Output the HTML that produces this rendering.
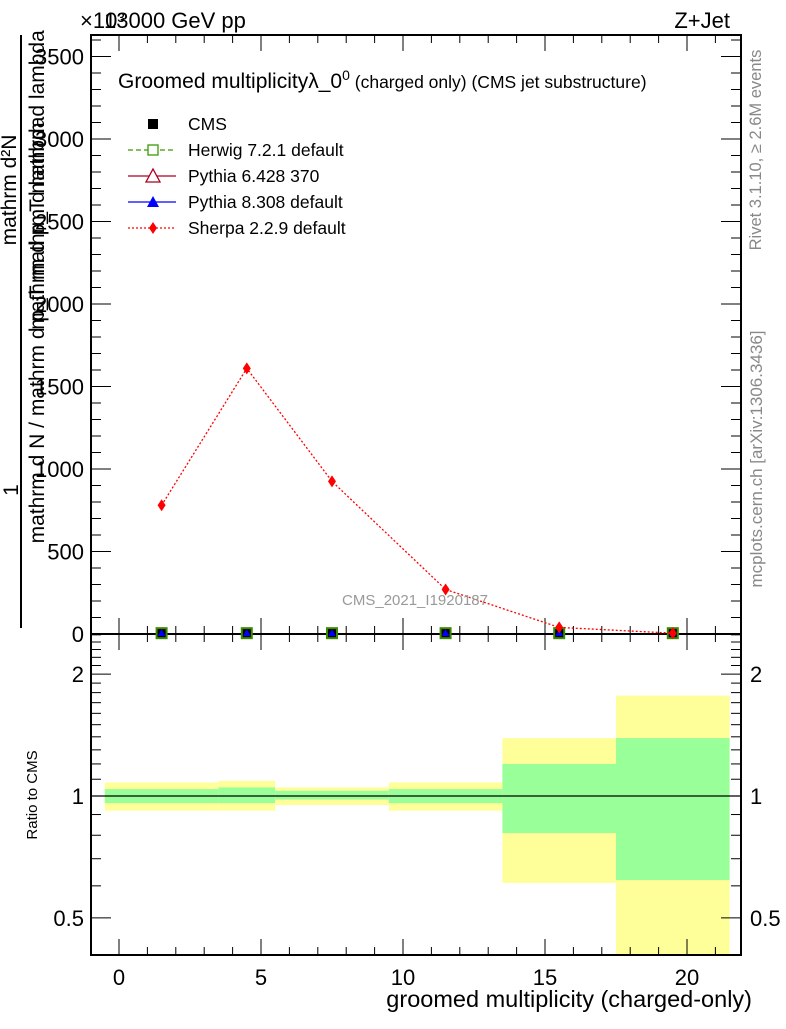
<!DOCTYPE html>
<html><head><meta charset="utf-8"><style>
body{margin:0;background:#fff}
svg{font-family:"Liberation Sans",sans-serif}
</style></head><body>
<svg id="c" width="786" height="1024" xmlns="http://www.w3.org/2000/svg"></svg>
<script>
const xs=[1.5,4.5,7.5,11.5,15.5,19.5];
const edges=[-0.5,3.5,5.5,9.5,13.5,17.5,21.5];
const sherpa=[780,1610,925,270,40,5];
const cmsVals=[5,5,5,5,5,5];
const yelHi=[1.08,1.09,1.05,1.08,1.39,1.77];
const yelLo=[0.92,0.92,0.95,0.92,0.61,0.3];
const grnHi=[1.04,1.05,1.03,1.04,1.2,1.39];
const grnLo=[0.96,0.96,0.98,0.96,0.81,0.62];
const xTicks=[0,5,10,15,20];
const yTicks=[500,1000,1500,2000,2500,3000,3500];
const rTicks=[0.5,1,2];
const L=91,R=741,T=35,M=634,B=955;
const X=v=>119+(v)*28.4;
const Y=v=>634-v*0.165;
const RY=r=>796-405*Math.log10(r);
const NS="http://www.w3.org/2000/svg";
const svg=document.getElementById('c');
function el(t,a,p){const e=document.createElementNS(NS,t);for(const k in a)e.setAttribute(k,a[k]);(p||svg).appendChild(e);return e;}
function tx(s,a){const e=el('text',a);e.textContent=s;return e;}
for(let i=0;i<xs.length;i++){
 const x0=X(edges[i]),x1=X(edges[i+1]);
 const yb=Math.min(RY(yelLo[i]),B);
 let r=el('rect',{x:x0,y:RY(yelHi[i]),width:x1-x0,height:yb-RY(yelHi[i]),fill:'#ffff99'});
 
 r=el('rect',{x:x0,y:RY(grnHi[i]),width:x1-x0,height:RY(grnLo[i])-RY(grnHi[i]),fill:'#99ff99'});
 
}
el('line',{x1:L,x2:R,y1:RY(1),y2:RY(1),stroke:'#000','stroke-width':1.3});
el('rect',{x:L,y:T,width:R-L,height:M-T,fill:'none',stroke:'#000','stroke-width':2});
el('rect',{x:L,y:M,width:R-L,height:B-M,fill:'none',stroke:'#000','stroke-width':2});
for(let v=-1;v<=21.9;v+=1){const x=X(v);const big=(Math.round(v)%5===0);const h=big?16:8;
 for(const [y0,dir] of [[M,-1],[B,-1],[T,1],[M,1]]){el('line',{x1:x,x2:x,y1:y0,y2:y0+dir*h,stroke:'#000'});}}
xTicks.forEach(v=>{const t=tx(String(v),{x:X(v),y:985,'font-size':22,'text-anchor':'middle'});});
for(let v=0;v<=3600;v+=100){const y=Y(v);const h=v%500===0?20:10;el('line',{x1:L,x2:L+h,y1:y,y2:y,stroke:'#000'});el('line',{x1:R,x2:R-h,y1:y,y2:y,stroke:'#000'});}
yTicks.forEach(v=>{const t=tx(String(v),{x:84,y:Y(v)+8,'font-size':22,'text-anchor':'end'});});
tx('0',{x:84,y:642,'font-size':22,'text-anchor':'end'});
const rmin=[0.5,0.6,0.7,0.8,0.9,1,1.1,1.2,1.3,1.4,1.5,1.6,1.7,1.8,1.9,2,2.1,2.2,2.3,2.4,2.5];
rmin.forEach(r=>{const y=RY(r);const big=rTicks.includes(r);const h=big?20:10;el('line',{x1:L,x2:L+h,y1:y,y2:y,stroke:'#000'});el('line',{x1:R,x2:R-h,y1:y,y2:y,stroke:'#000'});});
rTicks.forEach(r=>{const t=tx(String(r),{x:84,y:RY(r)+8,'font-size':22,'text-anchor':'end'});
 const t2=tx(String(r),{x:750,y:RY(r)+8,'font-size':22});});
xs.forEach((v,i)=>{const x=X(v),y=Y(cmsVals[i]);
 let r=el('rect',{x:x-5,y:y-5,width:10,height:10,fill:'#000',stroke:'#3a8a00','stroke-width':2});
 el('polygon',{points:`${x-4},${y+3} ${x+4},${y+3} ${x},${y-4}`,fill:'#0000ff'});});
el('polyline',{points:xs.map((v,i)=>X(v)+','+Y(sherpa[i])).join(' '),fill:'none',stroke:'#ff0000','stroke-width':1.3,'stroke-dasharray':'2,2'});
xs.forEach((v,i)=>{const x=X(v),y=Y(sherpa[i]);const p=el('polygon',{points:`${x},${y-6} ${x+4},${y} ${x},${y+6} ${x-4},${y}`,fill:'#ff0000'});});
tx('×10³',{x:80,y:28,'font-size':22});
tx('13000 GeV pp',{x:104,y:28,'font-size':22});
tx('Z+Jet',{x:730,y:28,'font-size':22,'text-anchor':'end'});
const tt=tx('',{x:118,y:88,'font-size':21});
tt.innerHTML='Groomed multiplicityλ_0<tspan dy="-8" font-size="14">0</tspan><tspan dy="8" font-size="17.5"> (charged only) (CMS jet substructure)</tspan>';
const leg=[['CMS','#000','sq'],['Herwig 7.2.1 default','#3a9a00','osq'],['Pythia 6.428 370','#aa0022','otri'],['Pythia 8.308 default','#0000ff','tri'],['Sherpa 2.2.9 default','#ff0000','dia']];
leg.forEach((l,i)=>{const y=124+26*i;const g=el('g',{});
 if(i>0)el('line',{x1:128,x2:176,y1:y,y2:y,stroke:l[1],'stroke-width':1.3,'stroke-dasharray':i==1?'5,3':i==4?'2,2':''},g);
 const x=153;
 if(l[2]=='sq')el('rect',{x:x-5,y:y-5,width:10,height:10,fill:'#000'},g);
 if(l[2]=='osq')el('rect',{x:x-5,y:y-5,width:10,height:10,fill:'#fff',stroke:l[1],'stroke-width':1.3},g);
 if(l[2]=='otri')el('polygon',{points:`${x-7},${y+6} ${x+7},${y+6} ${x},${y-7}`,fill:'#fff',stroke:l[1],'stroke-width':1.3},g);
 if(l[2]=='tri')el('polygon',{points:`${x-6},${y+5} ${x+6},${y+5} ${x},${y-6}`,fill:l[1]},g);
 if(l[2]=='dia')el('polygon',{points:`${x},${y-6} ${x+4},${y} ${x},${y+6} ${x-4},${y}`,fill:l[1]},g);
 const t=el('text',{x:188,y:y+6,'font-size':17.5},g);t.textContent=l[0];});
tx('CMS_2021_I1920187',{x:415,y:605,'font-size':15,fill:'#999','text-anchor':'middle'});
tx('groomed multiplicity (charged-only)',{x:752,y:1007,'font-size':23.5,'text-anchor':'end'});
tx('Ratio to CMS',{x:0,y:0,'font-size':15,'text-anchor':'middle',transform:'translate(37,795) rotate(-90)'});
tx('Rivet 3.1.10, ≥ 2.6M events',{x:0,y:0,'font-size':16.5,fill:'#888','text-anchor':'middle',transform:'translate(761,150) rotate(-90)'});
tx('mcplots.cern.ch [arXiv:1306.3436]',{x:0,y:0,'font-size':17,fill:'#888','text-anchor':'middle',transform:'translate(762,459) rotate(-90)'});
tx('1',{x:0,y:0,'font-size':21,'text-anchor':'middle',transform:'translate(18,490) rotate(-90)'});
el('line',{x1:21,x2:21,y1:35,y2:628,stroke:'#000','stroke-width':2});
tx('mathrm d N / mathrm d p_T mathrm d lambda',{x:0,y:0,'font-size':21,'text-anchor':'middle',transform:'translate(44,330) rotate(-90)'});
tx('mathrm d²N',{x:0,y:0,'font-size':21,'text-anchor':'middle',transform:'translate(16,190) rotate(-90)'});
tx('mathrm d p_T mathrm d lambda',{x:0,y:0,'font-size':21,'text-anchor':'middle',transform:'translate(44,180) rotate(-90)'});
</script>
</body></html>
